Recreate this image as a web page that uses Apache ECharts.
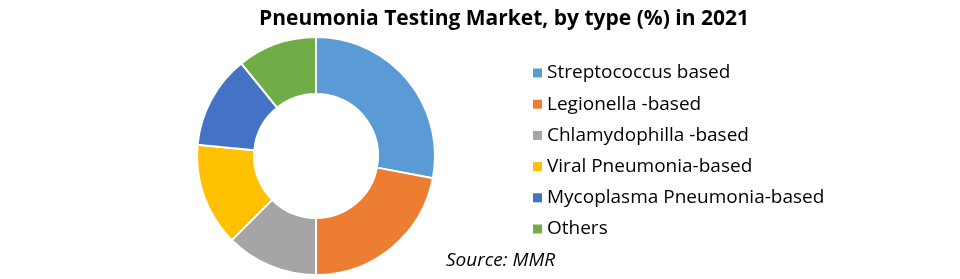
<!DOCTYPE html>
<html><head><meta charset="utf-8">
<script src="https://cdn.jsdelivr.net/npm/echarts@6/dist/echarts.min.js"></script>
<style>html,body{margin:0;padding:0;background:#fff}#c{width:960px;height:279px}</style>
</head><body><div id="c"></div>
<script>
const categories = ["Streptococcus based","Legionella -based","Chlamydophilla -based","Viral Pneumonia-based","Mycoplasma Pneumonia-based","Others"];
const values = [28, 22, 12.5, 14, 12.7, 10.8];
const colors = ["#5B9BD5","#ED7D31","#A5A5A5","#FFC000","#4472C4","#70AD47"];
const titleText = "Pneumonia Testing Market, by type (%) in 2021";
const sourceText = "Source: MMR";

const chart = echarts.init(document.getElementById('c'), null, {renderer:'canvas'});
chart.setOption({
  animation:false,
  backgroundColor:'#fff',
  color: colors,
  title:{
    text:titleText, left:499, top:4, textAlign:'center',
    textStyle:{fontFamily:'Open Sans', fontWeight:'bold', fontSize:21, color:'#000'}
  },
  legend:{
    orient:'vertical', left:528, top:58,
    icon:'rect', itemWidth:9, itemHeight:9, itemGap:11.2,
    itemStyle:{borderWidth:0},
    textStyle:{fontFamily:'Open Sans', fontSize:19, color:'#000', lineHeight:20},
    data:categories
  },
  graphic:[{
    type:'text', left:446, top:251,
    style:{text:sourceText, font:'italic 19px "Open Sans"', fill:'#000'}
  }],
  series:[{
    type:'pie', center:[316,156], radius:[62,119], startAngle:90, clockwise:true,
    label:{show:false}, labelLine:{show:false},
    itemStyle:{borderColor:'#fff', borderWidth:2},
    emphasis:{disabled:true},
    data: categories.map((n,i)=>({name:n, value:values[i]}))
  }]
});
</script></body></html>
